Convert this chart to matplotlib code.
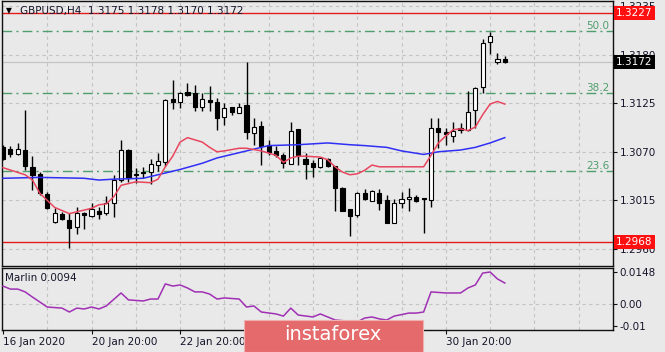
import matplotlib
matplotlib.use("Agg")
import matplotlib.pyplot as plt
from matplotlib.patches import Rectangle

# ---------------- data ----------------
symbol_title = "GBPUSD,H4  1.3175 1.3178 1.3170 1.3172"

opens = [1.3075, 1.3073, 1.3067, 1.3072, 1.3053, 1.3045, 1.3022, 1.2990, 1.3000, 1.2993,
         1.2985, 1.3001, 1.2997, 1.3003, 1.3001, 1.3012, 1.3038, 1.3072, 1.3045, 1.3047,
         1.3047, 1.3055, 1.3058, 1.3130, 1.3126, 1.3138, 1.3137, 1.3121, 1.3129, 1.3126,
         1.3109, 1.3121, 1.3114, 1.3123, 1.3091, 1.3099, 1.3078, 1.3071, 1.3066, 1.3056,
         1.3096, 1.3062, 1.3057, 1.3053, 1.3062, 1.3054, 1.3029, 1.3005, 1.2998, 1.3023,
         1.3014, 1.3023, 1.3015, 1.2989, 1.3012, 1.3017, 1.3019, 1.3018, 1.3015, 1.3097,
         1.3092, 1.3088, 1.3097, 1.3095, 1.3117, 1.3143, 1.3194, 1.3172, 1.3175]
highs = [1.3078, 1.3077, 1.3080, 1.3117, 1.3065, 1.3047, 1.3024, 1.3006, 1.3002, 1.3001,
         1.3007, 1.3002, 1.3012, 1.3007, 1.3020, 1.3044, 1.3083, 1.3073, 1.3052, 1.3053,
         1.3062, 1.3069, 1.3130, 1.3151, 1.3138, 1.3148, 1.3146, 1.3137, 1.3144, 1.3131,
         1.3125, 1.3121, 1.3125, 1.3172, 1.3108, 1.3105, 1.3083, 1.3077, 1.3069, 1.3104,
         1.3096, 1.3069, 1.3061, 1.3064, 1.3063, 1.3054, 1.3030, 1.3005, 1.3024, 1.3028,
         1.3027, 1.3028, 1.3021, 1.3017, 1.3024, 1.3029, 1.3021, 1.3018, 1.3108, 1.3108,
         1.3097, 1.3104, 1.3103, 1.3139, 1.3143, 1.3198, 1.3206, 1.3182, 1.3178]
lows = [1.3061, 1.3064, 1.3066, 1.3049, 1.3027, 1.3021, 1.3005, 1.2989, 1.2993, 1.2961,
        1.2977, 1.2983, 1.2996, 1.2994, 1.2998, 1.2996, 1.3036, 1.3036, 1.3035, 1.3040,
        1.3033, 1.3048, 1.3054, 1.3118, 1.3120, 1.3133, 1.3116, 1.3116, 1.3116, 1.3095,
        1.3100, 1.3112, 1.3114, 1.3084, 1.3078, 1.3055, 1.3066, 1.3064, 1.3052, 1.3056,
        1.3055, 1.3039, 1.3041, 1.3052, 1.3053, 1.3003, 1.3003, 1.2975, 1.2996, 1.3015,
        1.3014, 1.3004, 1.2989, 1.2989, 1.3006, 1.3003, 1.3013, 1.2978, 1.3007, 1.3074,
        1.3078, 1.3081, 1.3091, 1.3094, 1.3097, 1.3137, 1.3181, 1.3169, 1.3170]
closes = [1.3062, 1.3067, 1.3073, 1.3054, 1.3044, 1.3023, 1.3006, 1.3001, 1.2994, 1.2984,
          1.3001, 1.2998, 1.3005, 1.3000, 1.3012, 1.3038, 1.3072, 1.3040, 1.3044, 1.3046,
          1.3056, 1.3060, 1.3129, 1.3126, 1.3137, 1.3134, 1.3121, 1.3130, 1.3126, 1.3108,
          1.3120, 1.3115, 1.3121, 1.3092, 1.3098, 1.3077, 1.3070, 1.3066, 1.3057, 1.3094,
          1.3066, 1.3056, 1.3053, 1.3063, 1.3054, 1.3029, 1.3003, 1.2997, 1.3023, 1.3017,
          1.3026, 1.3012, 1.2989, 1.3012, 1.3017, 1.3019, 1.3014, 1.3017, 1.3097, 1.3092,
          1.3090, 1.3094, 1.3095, 1.3115, 1.3142, 1.3193, 1.3201, 1.3175, 1.3172]

red_ma_idx = [0, 3, 4, 5, 7, 9, 10, 12, 13, 14, 15, 16, 18, 20, 21, 22, 23, 24, 25, 27,
              28, 29, 30, 32, 33, 35, 37, 38, 39, 40, 41, 43, 44, 45, 46, 47, 48, 49, 50, 51,
              57, 58, 59, 60, 61, 62, 63, 64, 65, 66, 67, 68]
red_ma_vals = [1.3052, 1.3044, 1.3038, 1.3023, 1.3007, 1.3000, 1.3002, 1.3006, 1.3010, 1.3011,
               1.3019, 1.3032, 1.3036, 1.3035, 1.3039, 1.3053, 1.3065, 1.3081, 1.3086, 1.3081,
               1.3075, 1.3070, 1.3071, 1.3074, 1.3074, 1.3071, 1.3066, 1.3058, 1.3063, 1.3065,
               1.3065, 1.3064, 1.3061, 1.3053, 1.3047, 1.3044, 1.3045, 1.3049, 1.3055, 1.3053,
               1.3053, 1.3066, 1.3080, 1.3088, 1.3095, 1.3096, 1.3094, 1.3098, 1.3112, 1.3124,
               1.3127, 1.3124]

blue_ma_idx = [0, 5, 11, 13, 15, 19, 21, 24, 27, 29, 32, 34, 36, 40, 44, 47, 49, 52, 54, 57,
               59, 62, 64, 66, 68]
blue_ma_vals = [1.3040, 1.3041, 1.3040, 1.3038, 1.3039, 1.3040, 1.3044, 1.3050, 1.3057, 1.3063,
                1.3069, 1.3073, 1.3077, 1.3078, 1.3080, 1.3078, 1.3077, 1.3075, 1.3071, 1.3067,
                1.3070, 1.3072, 1.3075, 1.3080, 1.3086]

marlin_idx = [0, 1, 2, 3, 4, 6, 8, 9, 10, 11, 12, 13, 14, 16, 17, 19, 20, 21, 22, 23,
              24, 25, 26, 27, 28, 29, 30, 32, 33, 34, 35, 37, 38, 39, 40, 42, 43, 44, 45, 48,
              49, 50, 51, 52, 53, 55, 56, 57, 58, 60, 62, 63, 64, 65, 66, 67, 68]
marlin_vals = [0.0083, 0.0069, 0.0069, 0.0056, 0.0032, -0.0014, -0.0019, -0.0037, -0.0019, -0.0023,
               -0.0014, -0.0023, -0.0009, 0.0051, 0.0019, 0.0014, 0.0023, 0.0023, 0.0093, 0.0083,
               0.0088, 0.0074, 0.0056, 0.0056, 0.0046, 0.0023, 0.0028, 0.0023, -0.0014, -0.0009,
               -0.0037, -0.0046, -0.0056, -0.0019, -0.0051, -0.0060, -0.0046, -0.0060, -0.0074, -0.0083,
               -0.0065, -0.0060, -0.0069, -0.0074, -0.0056, -0.0042, -0.0042, -0.0037, 0.0056, 0.0051,
               0.0051, 0.0074, 0.0088, 0.0143, 0.0148, 0.0116, 0.0097]
marlin_label = "Marlin 0.0094"

fib_levels = [1.3207, 1.3137, 1.3048]
fib_labels = ["50.0", "38.2", "23.6"]
resistance = 1.3227
support = 1.2968
bid = 1.3172

price_ticks = [1.3235, 1.3180, 1.3125, 1.3070, 1.3015, 1.2960]
price_tick_labels = ["1.3235", "1.3180", "1.3125", "1.3070", "1.3015", "1.2960"]
marlin_ticks = [0.0148, 0.0, -0.01]
marlin_tick_labels = ["0.0148", "0.00", "-0.01"]
date_tick_bars = [0, 12, 24, 36, 48, 60]
# labels at 36 and 48 are hidden behind the watermark in the reference
date_tick_labels = ["16 Jan 2020", "20 Jan 20:00", "22 Jan 20:00", "", "", "30 Jan 20:00"]
grid_bars = list(range(6, 83, 6))

# ---------------- style ----------------
BG = "#e9e9e9"
GRID = "#c3c3c3"
TXT = "#15152a"
RED_MA = "#e8465e"
BLUE_MA = "#2f2ff5"
FIB = "#4f9e6e"
SR = "#e41b1b"
MARLIN = "#a030b4"
FS = 7.5

W, H = 665, 352
fig = plt.figure(figsize=(W / 100, H / 100), dpi=100, facecolor=BG)


def fx(px):
    return px / W


def fy(py):
    return 1 - py / H


ax = fig.add_axes([fx(1.5), fy(266), 611 / W, 265 / H], facecolor=BG)
ax2 = fig.add_axes([fx(1.5), fy(330), 611 / W, 62 / H], facecolor=BG)

xlim = (-0.2, 82.59)
ax.set_xlim(*xlim)
ax2.set_xlim(*xlim)
ax.set_ylim(1.29407, 1.32407)
ax2.set_ylim(-0.012025, 0.01665)

for a in (ax, ax2):
    for s in a.spines.values():
        s.set_color("#101010")
        s.set_linewidth(1.0)
    for b in grid_bars:
        a.axvline(b, color=GRID, lw=0.8, ls=(0, (3, 3)), zorder=0)

for p in price_ticks:
    ax.axhline(p, color=GRID, lw=0.8, ls=(0, (3, 3)), zorder=0)
ax2.axhline(0.0, color=GRID, lw=0.8, ls=(0, (3, 3)), zorder=0)

# fib levels
for lvl, lab in zip(fib_levels, fib_labels):
    ax.axhline(lvl, color=FIB, lw=1.0, ls=(0, (7, 3, 1.5, 3)), zorder=1)
    ax.text(0.995, lvl, lab, transform=ax.get_yaxis_transform(), ha="right", va="bottom",
            color=FIB, fontsize=FS)

# support / resistance / bid
ax.axhline(resistance, color=SR, lw=1.0, zorder=1)
ax.axhline(support, color=SR, lw=1.0, zorder=1)
ax.axhline(bid, color="#c4c4c4", lw=0.9, zorder=1)

# candles
idx = list(range(len(opens)))
ax.vlines(idx, lows, highs, color="black", lw=1.0, zorder=3)
bodies_bottom = [min(o, c) for o, c in zip(opens, closes)]
bodies_h = [max(abs(c - o), 0.00002) for o, c in zip(opens, closes)]
fills = ["white" if c > o else "black" for o, c in zip(opens, closes)]
ax.bar(idx, bodies_h, bottom=bodies_bottom, width=0.56, color=fills,
       edgecolor="black", linewidth=0.8, zorder=4)

# moving averages
ax.plot(blue_ma_idx, blue_ma_vals, color=BLUE_MA, lw=1.1, zorder=5)
ax.plot(red_ma_idx, red_ma_vals, color=RED_MA, lw=1.1, zorder=5)

# marlin
ax2.plot(marlin_idx, marlin_vals, color=MARLIN, lw=1.1, zorder=3)
ax2.text((5 - 1.5) / 611, (330 - 278) / 62, marlin_label, transform=ax2.transAxes,
         ha="left", va="center", fontsize=FS, color=TXT)

# axes ticks
ax.yaxis.tick_right()
ax.set_yticks(price_ticks)
ax.set_yticklabels(price_tick_labels)
ax.set_xticks([])
ax.tick_params(axis="y", length=3, width=0.8, pad=2, labelsize=FS, colors="#101010",
               labelcolor=TXT)

ax2.yaxis.tick_right()
ax2.set_yticks(marlin_ticks)
ax2.set_yticklabels(marlin_tick_labels)
ax2.tick_params(axis="y", length=3, width=0.8, pad=2, labelsize=FS, colors="#101010",
                labelcolor=TXT)
ax2.set_xticks(date_tick_bars)
ax2.set_xticklabels(date_tick_labels, ha="left")
ax2.tick_params(axis="x", length=3, width=0.8, pad=2, labelsize=FS, colors="#101010",
                labelcolor=TXT)

# price boxes on right axis
ytr = ax.get_yaxis_transform()
for val, fc in ((resistance, "#ff1010"), (support, "#ff1010"), (bid, "black")):
    ax.text(1.006, val, f"{val:.4f}", transform=ytr, ha="left", va="center", color="white",
            fontsize=FS, clip_on=False, zorder=20,
            bbox=dict(boxstyle="square,pad=0.18", fc=fc, ec="none"))

# title
fig.text(fx(6), fy(10.5), "\u25BC", fontsize=5.5, ha="left", va="center", color="black")
fig.text(fx(20), fy(11), symbol_title, fontsize=FS, ha="left", va="center", color=TXT)

# watermark logo
fig.add_artist(Rectangle((fx(244), fy(352)), (423 - 244) / W, 32 / H,
                         transform=fig.transFigure, fc="#e46a6c", ec="#f0b0b0", lw=0.8,
                         zorder=30))
fig.text(fx(333), fy(335), "instaforex", fontsize=14, ha="center", va="center",
         color="white", zorder=31)

fig.savefig("out.png", dpi=100, facecolor=BG)
